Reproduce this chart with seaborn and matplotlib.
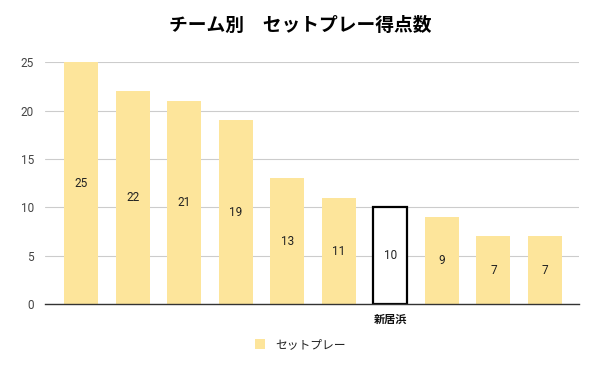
import matplotlib
matplotlib.use("Agg")
import matplotlib.pyplot as plt
import seaborn as sns
import pandas as pd
from matplotlib.patches import Patch

# data
teams = ["t1", "t2", "t3", "t4", "t5", "t6", "新居浜", "t8", "t9", "t10"]
tick_labels = ["", "", "", "", "", "", "新居浜", "", "", ""]
goals = [25, 22, 21, 19, 13, 11, 10, 9, 7, 7]
highlight = "新居浜"

sns.set_style("white")
plt.rcParams['font.family'] = ['Roboto', 'Noto Sans CJK JP', 'DejaVu Sans']

bar_color = '#fde59b'
df = pd.DataFrame({'team': teams, 'goals': goals})

fig = plt.figure(figsize=(6, 3.71), dpi=100)
ax = fig.add_axes([0.075, 0.18, 0.89, 0.652])

sns.barplot(data=df, x='team', y='goals', color=bar_color, width=0.66,
            saturation=1, ax=ax, zorder=2)

for patch, team in zip(ax.patches, teams):
    patch.set_linewidth(0)
    if team == highlight:
        patch.set_facecolor('white')
        patch.set_edgecolor('black')
        patch.set_linewidth(1.6)

# value labels in the middle of each bar
for i, v in enumerate(goals):
    ax.text(i, v / 2, str(v), ha='center', va='center', fontsize=8.5, color='#222222')

ax.set_ylim(0, 25)
ax.set_xlim(-0.7, 9.66)
ax.set_yticks([0, 5, 10, 15, 20, 25])
ax.yaxis.grid(True, color='#cccccc', linewidth=0.8, zorder=0)
ax.set_axisbelow(True)
ax.set_xticks(range(len(teams)))
ax.set_xticklabels(tick_labels, fontsize=8, fontweight='bold', color='#111111',
                   family=['Noto Sans CJK JP', 'DejaVu Sans'])
ax.tick_params(axis='y', labelsize=8.5, colors='#444444', length=0, pad=8)
ax.tick_params(axis='x', length=0, pad=6)
ax.set_xlabel('')
ax.set_ylabel('')
sns.despine(ax=ax, left=True, top=True, right=True)
ax.spines['bottom'].set_color('#333333')
ax.spines['bottom'].set_linewidth(1)

fig.suptitle('チーム別\u3000セットプレー得点数', x=0.5, y=0.958, fontsize=13.5,
             fontweight='bold', color='black',
             family=['Noto Sans CJK JP', 'DejaVu Sans'])

handles = [Patch(facecolor=bar_color, edgecolor='none', label='セットプレー')]
fig.legend(handles=handles, loc='center', bbox_to_anchor=(0.5, 0.072), frameon=False,
           handlelength=0.9, handleheight=0.9, handletextpad=0.8, labelcolor='#222222',
           prop={'family': ['Noto Sans CJK JP', 'DejaVu Sans'], 'size': 8.5})

plt.savefig('out.png', dpi=100)
plt.close()
